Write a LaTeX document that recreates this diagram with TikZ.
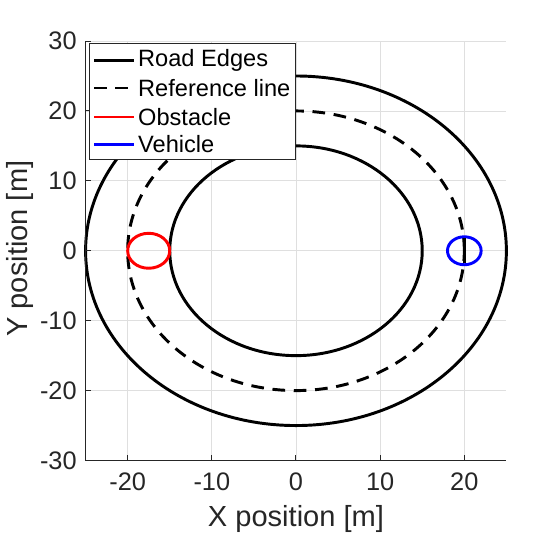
\documentclass[tikz,border=0pt]{standalone}
\usepackage{fontspec}
\setmainfont{Liberation Sans}
\usetikzlibrary{calc}
\definecolor{AxCol}  {RGB}{38,38,38}
\definecolor{GridCol}{RGB}{223,223,223}
\definecolor{ObsCol} {RGB}{255,0,0}
\definecolor{VehCol} {RGB}{0,0,255}
\tikzset{
  road_edge/.style={line width=2.2pt,black},
  ref_line/.style={line width=2.2pt,black,dash pattern=on 9.5pt off 6.5pt},
  obs_line/.style={line width=2.2pt,ObsCol},
  veh_line/.style={line width=2.2pt,VehCol},
  grid_line/.style={GridCol,line width=0.6pt},
  ax_line/.style={AxCol,line width=0.75pt},
  tick_lbl/.style={font=\fontsize{19}{22}\selectfont,text=AxCol,inner sep=0pt},
  ax_lbl/.style={font=\fontsize{21.8}{26}\selectfont,text=AxCol,inner sep=0pt},
  leg_txt/.style={font=\fontsize{17.7}{20}\selectfont,anchor=west,inner sep=0pt},
}
\begin{document}
\begin{tikzpicture}[x=6.311pt,y=5.2425pt]
\useasboundingbox (-35.17,-40.67) rectangle (31.37,35.87);

% grid
\foreach \gx in {-20,-10,...,20} \draw[grid_line] (\gx,-30)--(\gx,30);
\foreach \gy in {-30,-20,...,30} \draw[grid_line] (-25,\gy)--(25,\gy);

% road and reference line
\draw[road_edge] (0,0) circle[x radius=25,y radius=25];
\draw[road_edge] (0,0) circle[x radius=15,y radius=15];
\draw[ref_line]  (0,0) circle[x radius=20,y radius=20];

% obstacle and vehicle
\draw[obs_line] (-17.5,0) circle[x radius=2.5,y radius=2.5];
\draw[veh_line] (20,0) circle[x radius=2,y radius=2];
\draw[road_edge] (20,-1.8)--(20,1.8);

% axes
\draw[ax_line] (-25,30)--(-25,-30)--(25,-30);
\foreach \gy in {-30,-20,...,30}{
  \draw[ax_line] (-25,\gy)--++(3.75pt,0);
  \node[tick_lbl,anchor=east] (yt\gy) at ($(-25,\gy)+(-6.5pt,0)$) {\gy};
}
\foreach \gx in {-20,-10,...,20}{
  \draw[ax_line] (\gx,-30)--++(0,3.75pt);
  \node[tick_lbl,anchor=north] (xt\gx) at ($(\gx,-30)+(0,-9pt)$) {\gx};
}
\node[ax_lbl] (xlab) at (0,-38.4) {X position [m]};
\node[ax_lbl,rotate=90] (ylab) at (-32.8,0.3) {Y position [m]};

% legend
\draw[ax_line,fill=white] (-24.48,29.71) rectangle (0,13.12);
\draw[road_edge] (-24.0,27.28)--(-19.25,27.28);
\node[leg_txt] (lg1) at (-18.78,27.28) {Road Edges};
\draw[ref_line] (-24.0,23.28)--(-19.25,23.28);
\node[leg_txt] (lg2) at (-18.78,23.28) {Reference line};
\draw[obs_line] (-24.0,19.13)--(-19.25,19.13);
\node[leg_txt] (lg3) at (-18.78,19.13) {Obstacle};
\draw[veh_line] (-24.0,15.26)--(-19.25,15.26);
\node[leg_txt] (lg4) at (-18.78,15.26) {Vehicle};

\end{tikzpicture}
\end{document}
